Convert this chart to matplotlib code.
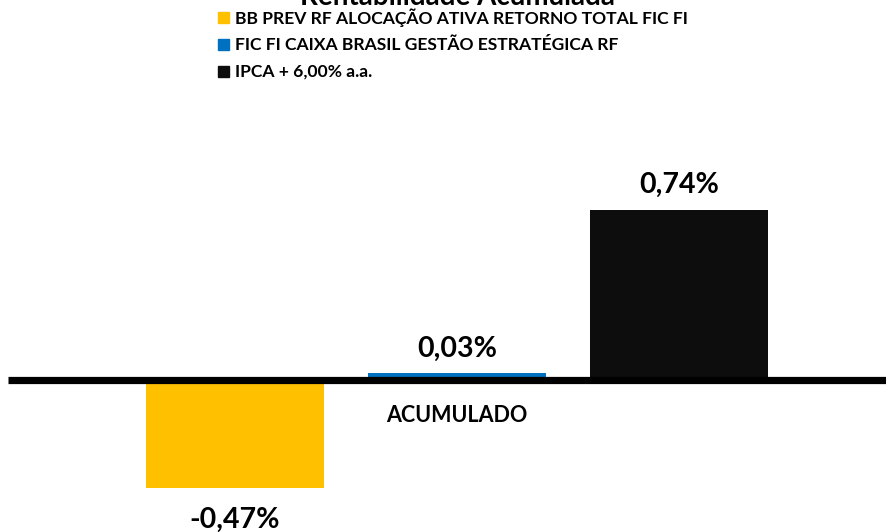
import matplotlib.pyplot as plt
from matplotlib.patches import Rectangle

plt.rcParams["font.family"] = ["Lato", "DejaVu Sans"]
plt.rcParams["font.weight"] = "bold"

TITLE = "Rentabilidade Acumulada"
CATEGORY = "ACUMULADO"
SERIES = [
    "BB PREV RF ALOCAÇÃO ATIVA RETORNO TOTAL FIC FI",
    "FIC FI CAIXA BRASIL GESTÃO ESTRATÉGICA RF",
    "IPCA + 6,00% a.a.",
]
VALUES = [-0.47, 0.03, 0.74]
COLORS = ["#FFC000", "#0070C0", "#0D0D0D"]

W, H = 887, 532
fig = plt.figure(figsize=(W / 100, H / 100), dpi=100)
ax = fig.add_axes([0, 0, 1, 1])

# pixel geometry: zero at y=380, 0.74 -> y=210
px_per_unit = 170 / 0.74
zero_px = 380
ax.set_ylim(-(H - zero_px) / px_per_unit, zero_px / px_per_unit)
step = 222
center = 457
ax.set_xlim((0 - center) / step, (W - center) / step)

offsets = [-1, 0, 1]
for off, v, c in zip(offsets, VALUES, COLORS):
    ax.bar(off, v, width=0.8, color=c, zorder=2)
    label = f"{v:.2f}%".replace(".", ",")
    dy = 12 if v >= 0 else -29
    ax.annotate(label, (off, v), xytext=(0, dy), textcoords="offset points",
                ha="center", va="baseline", fontsize=20.5, fontweight="bold")

# zero line
ax.plot([(8 - center) / step, (W - center) / step], [0, 0], color="black",
        linewidth=5.2, solid_capstyle="butt", zorder=3)

ax.text(0, -(415 - zero_px) / px_per_unit, CATEGORY, ha="center", va="center",
        fontsize=15.5, fontweight="bold")
ax.axis("off")

# title, mostly cut off at the top edge
fig.text(center / W, 1 - 5 / H, TITLE, ha="center", va="baseline",
         fontsize=20, fontweight="bold")

# legend
rows_y = [18, 45, 72]
for name, c, y in zip(SERIES, COLORS, rows_y):
    fig.patches.append(Rectangle((218 / W, 1 - (y + 5) / H), 11 / W, 11 / H,
                                 transform=fig.transFigure, color=c))
    fig.text(235 / W, 1 - y / H, name, ha="left", va="center",
             fontsize=12.6, fontweight="bold")

fig.savefig("out.png", dpi=100)
